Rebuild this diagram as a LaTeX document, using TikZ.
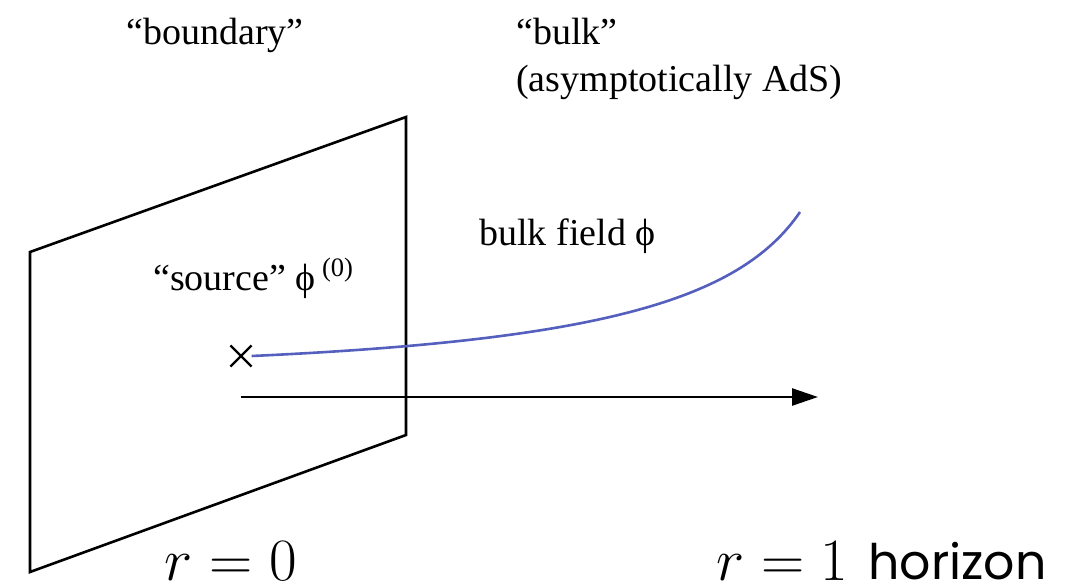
\RequirePackage{fix-cm}
\documentclass[tikz,border=0pt]{standalone}
\usepackage[no-math]{fontspec}
\setmainfont{Liberation Serif}
\newfontfamily\horizonfont{Poppins}
\usepackage{xcolor}
\usetikzlibrary{arrows.meta, positioning, calc, shapes.misc}
\definecolor{fieldblue}{RGB}{85,95,190}

\begin{document}
\begin{tikzpicture}[x=1pt, y=-1pt, line width=2.6pt,
    every node/.style={inner sep=0pt, font=\fontsize{38}{47}\selectfont},
    bigmath/.style={font=\fontsize{60}{60}\selectfont}]
    \useasboundingbox (0,0) rectangle (1078,586);
    % boundary sheet
    \draw (30,252) -- (406,117) -- (406,435) -- (30,572) -- cycle;
    % source point and radial axis
    \node[cross out, draw, line width=2.2pt, minimum size=19pt] (src) at (241,356) {};
    \coordinate (r0) at (241,397);
    \coordinate (r1) at (818,397);
    \coordinate (fieldend) at (800,212);
    \draw[-{Triangle[length=26pt, width=17pt]}] (r0) -- (r1);
    \draw[fieldblue] (src.east) .. controls (600,340) and (740,300) .. (fieldend);
    % labels
    \node[anchor=base] (boundary) at (215,45) {``boundary''};
    \node[anchor=base west] (bulk) at (515,45) {``bulk''};
    \node[anchor=base west] (ads) at (515,92) {(asymptotically AdS)};
    \node[anchor=base west] (field) at (478,245) {bulk field ϕ};
    \node[anchor=base west] (source) at (152,290) {``source'' ϕ\,\textsuperscript{(0)}};
    \node[bigmath, anchor=base] (rzero) at (231,580) {$r=0$};
    \node[bigmath, anchor=base west] (rone) at (715,580) {$r=1$};
    \node[anchor=base west, font=\fontsize{49}{49}\horizonfont\selectfont] (hor) at (867,579) {horizon};
\end{tikzpicture}
\end{document}
